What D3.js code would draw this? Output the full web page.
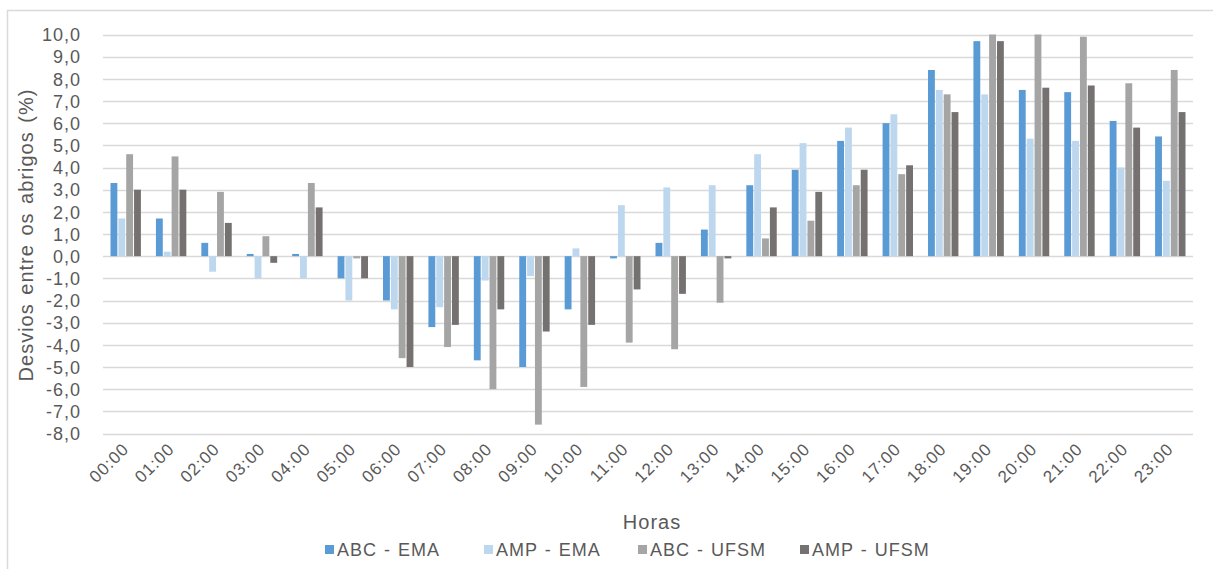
<!DOCTYPE html>
<html>
<head>
<meta charset="utf-8">
<script src="https://cdn.jsdelivr.net/npm/d3@7"></script>
<style>
  html, body { margin: 0; padding: 0; background: #fff; }
  svg { display: block; font-family: "Liberation Sans", Arial, sans-serif; }
</style>
</head>
<body>
<svg id="chart" width="1213" height="569"></svg>
<script>
// Hourly deviations between shelters (%)
const hours = ["00:00","01:00","02:00","03:00","04:00","05:00","06:00","07:00","08:00","09:00","10:00","11:00",
               "12:00","13:00","14:00","15:00","16:00","17:00","18:00","19:00","20:00","21:00","22:00","23:00"];
const seriesNames = ["ABC - EMA", "AMP - EMA", "ABC - UFSM", "AMP - UFSM"];
const abcEma  = [3.3, 1.7, 0.6, 0.1, 0.1, -1.0, -2.0, -3.2, -4.7, -5.0, -2.4, -0.1, 0.6, 1.2, 3.2, 3.9, 5.2, 6.0, 8.4, 9.7, 7.5, 7.4, 6.1, 5.4];
const ampEma  = [1.7, 0.2, -0.7, -1.0, -1.0, -2.0, -2.4, -2.3, -1.1, -0.9, 0.35, 2.3, 3.1, 3.2, 4.6, 5.1, 5.8, 6.4, 7.5, 7.3, 5.3, 5.2, 4.0, 3.4];
const abcUfsm = [4.6, 4.5, 2.9, 0.9, 3.3, -0.1, -4.6, -4.1, -6.0, -7.6, -5.9, -3.9, -4.2, -2.1, 0.8, 1.6, 3.2, 3.7, 7.3, 10.0, 10.0, 9.9, 7.8, 8.4];
const ampUfsm = [3.0, 3.0, 1.5, -0.3, 2.2, -1.0, -5.0, -3.1, -2.4, -3.4, -3.1, -1.5, -1.7, -0.1, 2.2, 2.9, 3.9, 4.1, 6.5, 9.7, 7.6, 7.7, 5.8, 6.5];
const yTicks = [10, 9, 8, 7, 6, 5, 4, 3, 2, 1, 0, -1, -2, -3, -4, -5, -6, -7, -8];
const colors = ["#5B9BD5", "#BDD7EE", "#A5A5A5", "#767171"];

const seriesValues = [abcEma, ampEma, abcUfsm, ampUfsm];
const rows = hours.map((h, i) => ({ hour: h, values: seriesValues.map((s, k) => ({ key: k, v: s[i] })) }));

const svg = d3.select("#chart");
const textColor = "#595959";
const gridColor = "#D9D9D9";

// outer chart frame
svg.append("rect")
  .attr("x", 7.5).attr("y", 10.5)
  .attr("width", 1220).attr("height", 580)
  .attr("fill", "none").attr("stroke", gridColor).attr("stroke-width", 1.5);

const left = 103, right = 1193;
const y = d3.scaleLinear().domain([-8, 10]).range([433.5, 34.5]);
const x = d3.scaleBand().domain(hours).range([left, right]).padding(0);
const groupW = 31.4;
const x1 = d3.scaleBand().domain(d3.range(seriesNames.length)).range([0, groupW]).padding(0);

// horizontal gridlines
svg.append("g")
  .selectAll("line").data(yTicks).join("line")
  .attr("x1", left).attr("x2", right)
  .attr("y1", d => Math.round(y(d)) + 0.5).attr("y2", d => Math.round(y(d)) + 0.5)
  .attr("stroke", gridColor).attr("stroke-width", 1.3);

// y axis labels
const yAxis = d3.axisLeft(y).tickValues(yTicks).tickSize(0).tickPadding(0)
  .tickFormat(d => d3.format(".1f")(d).replace(".", ",").replace("−", "-"));
const gy = svg.append("g").attr("transform", "translate(81,0)").call(yAxis);
gy.select(".domain").remove();
gy.selectAll("text").attr("fill", textColor).attr("font-size", 18)
  .attr("letter-spacing", 1)
  .attr("font-family", "Liberation Sans, Arial, sans-serif").attr("dy", "0.35em");

// bars
const groups = svg.append("g").selectAll("g").data(rows).join("g")
  .attr("transform", d => `translate(${x(d.hour) + (x.bandwidth() - groupW) / 2},0)`);
groups.selectAll("rect").data(d => d.values).join("rect")
  .attr("x", d => x1(d.key) + 0.5)
  .attr("width", x1.bandwidth() - 1)
  .attr("y", d => y(Math.max(0, d.v)))
  .attr("height", d => Math.abs(y(d.v) - y(0)))
  .attr("fill", d => colors[d.key]);

// x axis labels, rotated
const xAxis = d3.axisBottom(x).tickSize(0).tickPadding(0);
const gx = svg.append("g").attr("transform", "translate(0,446)").call(xAxis);
gx.select(".domain").remove();
gx.selectAll("text")
  .attr("fill", textColor).attr("font-size", 17)
  .attr("letter-spacing", 1)
  .attr("font-family", "Liberation Sans, Arial, sans-serif")
  .attr("text-anchor", "end")
  .attr("dy", "0.35em")
  .attr("transform", "translate(0,0) rotate(-45)");

// axis titles
svg.append("text")
  .attr("x", (left + right) / 2 + 4).attr("y", 529)
  .attr("text-anchor", "middle").attr("fill", textColor).attr("font-size", 20)
  .attr("letter-spacing", 1)
  .text("Horas");
svg.append("text")
  .attr("transform", "translate(33,235) rotate(-90)")
  .attr("text-anchor", "middle").attr("fill", textColor).attr("font-size", 20)
  .attr("letter-spacing", 1).attr("word-spacing", 2)
  .text("Desvios entre os abrigos (%)");

// legend
const legendX = [325, 484, 638, 800];
const legend = svg.append("g").selectAll("g").data(seriesNames).join("g")
  .attr("transform", (d, i) => `translate(${legendX[i]},550)`);
legend.append("rect").attr("x", 0).attr("y", -5).attr("width", 9).attr("height", 9)
  .attr("fill", (d, i) => colors[i]);
legend.append("text").attr("x", 12).attr("y", 0).attr("dy", "0.35em")
  .attr("fill", textColor).attr("font-size", 18)
  .attr("letter-spacing", 1).attr("word-spacing", 1)
  .text(d => d);
</script>
</body>
</html>
